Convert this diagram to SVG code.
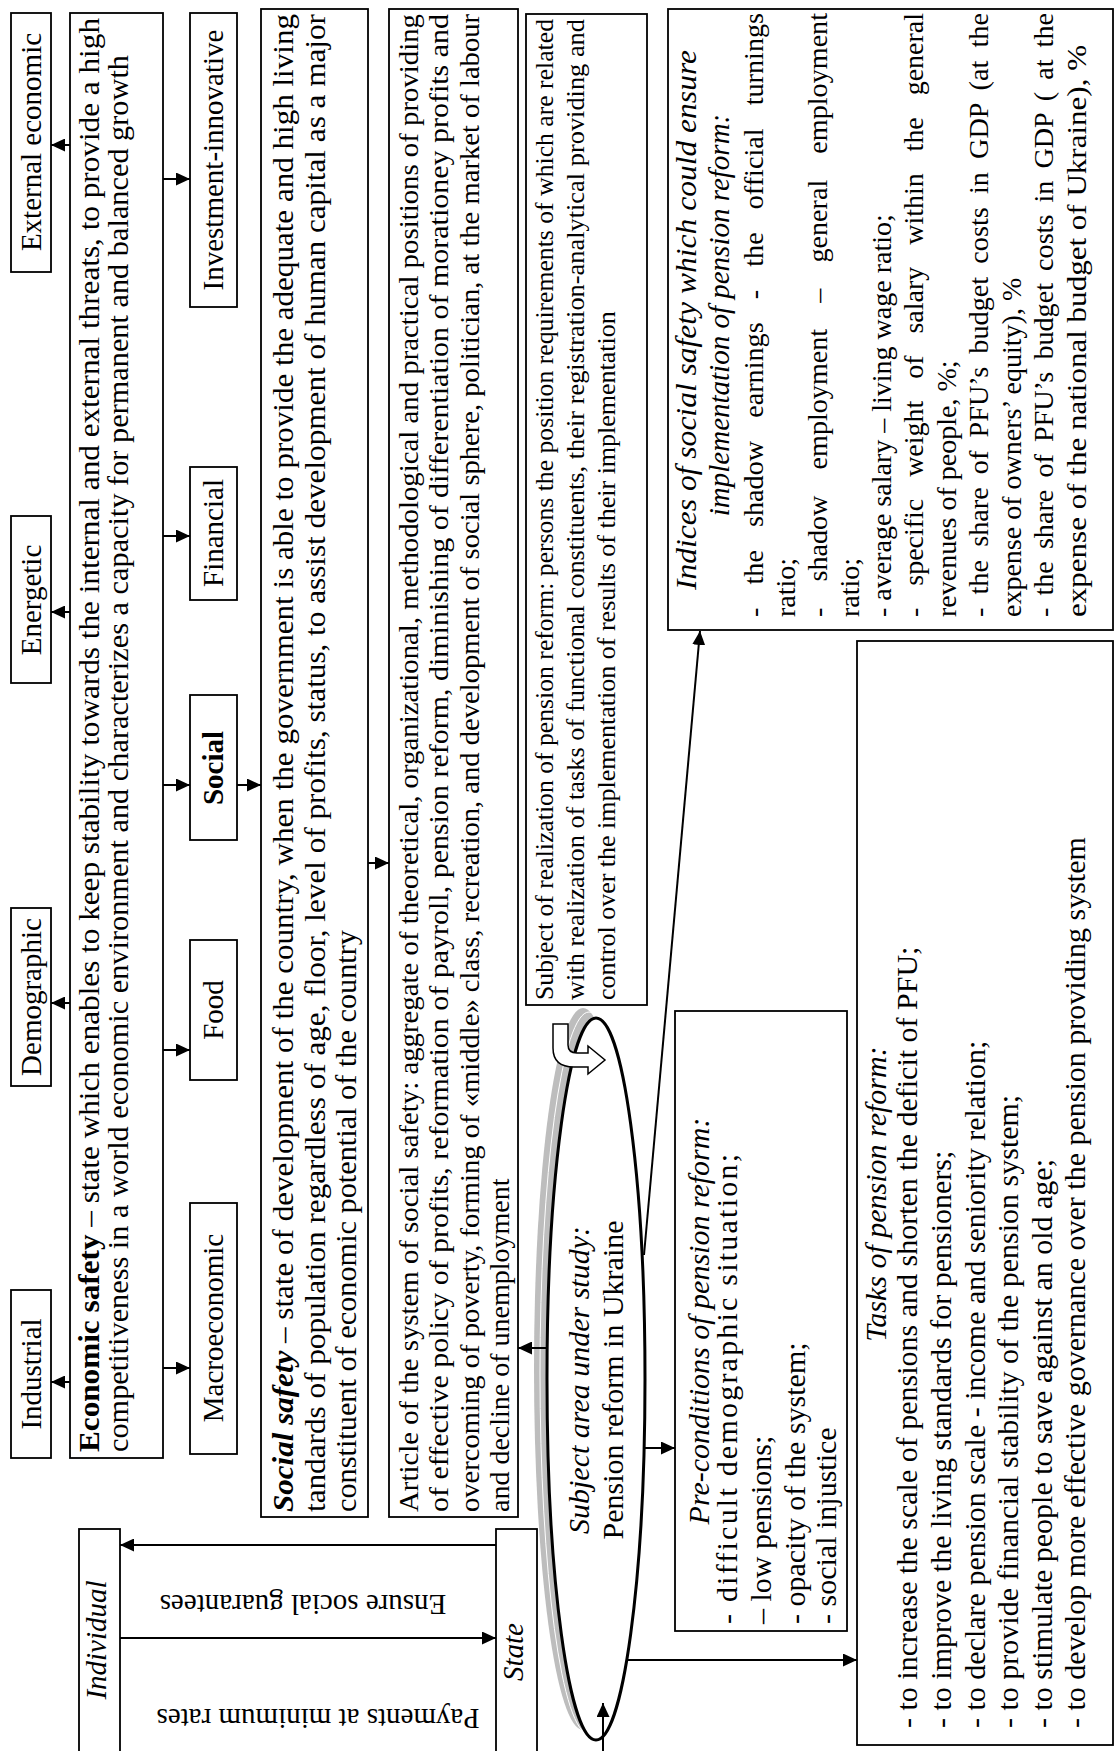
<svg xmlns="http://www.w3.org/2000/svg" width="1120" height="1751" viewBox="0 0 1120 1751">
<style>
.b{fill:#fff;stroke:#000;stroke-width:1.8}
.t{font-family:"Liberation Serif","Times New Roman",serif;font-size:29px;fill:#000}
.s{font-size:26px}
.m{font-size:28px}
.l{font-size:30px}
.i{font-style:italic}
.c{stroke:#000;stroke-width:2;fill:none;marker-end:url(#ah)}
</style>
<defs>
<marker id="ah" markerWidth="15" markerHeight="13" refX="14" refY="6.5" orient="auto" markerUnits="userSpaceOnUse"><path d="M0,0 L14,6.5 L0,13 z" fill="#000"/></marker>
</defs>
<rect width="1120" height="1751" fill="#fff"/>

<g id="external-economic"><rect class="b" x="11" y="13" width="40" height="259"/><text class="t" text-anchor="middle" transform="translate(41,142) rotate(-90)">External economic</text></g>
<g id="energetic"><rect class="b" x="11" y="516" width="40" height="167"/><text class="t" text-anchor="middle" transform="translate(41,600) rotate(-90)">Energetic</text></g>
<g id="demographic"><rect class="b" x="11" y="908" width="40" height="178"/><text class="t" text-anchor="middle" transform="translate(41,997) rotate(-90)">Demographic</text></g>
<g id="industrial"><rect class="b" x="11" y="1290" width="40" height="168"/><text class="t" text-anchor="middle" transform="translate(41,1374) rotate(-90)">Industrial</text></g>

<g id="economic-safety"><rect class="b" x="70" y="13" width="93" height="1445"/>
<text class="t" transform="translate(99,1452) rotate(-90)" textLength="1434" lengthAdjust="spacingAndGlyphs"><tspan font-weight="bold">Economic safety</tspan> – state which enables to keep stability towards the internal and external threats, to provide a high</text>
<text class="t" transform="translate(128,1452) rotate(-90)" textLength="1397" lengthAdjust="spacingAndGlyphs">competitiveness in a world economic environment and characterizes a capacity for permanent and balanced growth</text></g>

<g id="investment-innovative"><rect class="b" x="190" y="13" width="47" height="294"/><text class="t" text-anchor="middle" transform="translate(223,160) rotate(-90)">Investment-innovative</text></g>
<g id="financial"><rect class="b" x="190" y="467" width="47" height="133"/><text class="t" text-anchor="middle" transform="translate(223,533) rotate(-90)">Financial</text></g>
<g id="social"><rect class="b" x="190" y="695" width="47" height="145" stroke-width="2.4"/><text class="t" font-weight="bold" text-anchor="middle" transform="translate(223,768) rotate(-90)">Social</text></g>
<g id="food"><rect class="b" x="190" y="940" width="47" height="140"/><text class="t" text-anchor="middle" transform="translate(223,1010) rotate(-90)">Food</text></g>
<g id="macroeconomic"><rect class="b" x="190" y="1203" width="47" height="251"/><text class="t" text-anchor="middle" transform="translate(223,1328) rotate(-90)">Macroeconomic</text></g>

<g id="social-safety"><rect class="b" x="261" y="9" width="107" height="1508"/>
<text class="t" transform="translate(293,1512) rotate(-90)" textLength="1498" lengthAdjust="spacingAndGlyphs"><tspan font-weight="bold" font-style="italic">Social safety</tspan> – state of development of the country, when the government is able to provide the adequate and high living</text>
<text class="t" transform="translate(325,1512) rotate(-90)" textLength="1498" lengthAdjust="spacingAndGlyphs">tandards of population regardless of age, floor, level of profits, status, to assist development of human capital as a major</text>
<text class="t" transform="translate(356,1512) rotate(-90)" textLength="582" lengthAdjust="spacingAndGlyphs">constituent of economic potential of the country</text></g>

<g id="article"><rect class="b" x="389" y="9" width="129" height="1508"/>
<text class="t m" transform="translate(418,1512) rotate(-90)" textLength="1498" lengthAdjust="spacingAndGlyphs">Article of the system of social safety: aggregate of theoretical, organizational, methodological and practical positions of providing</text>
<text class="t m" transform="translate(448,1512) rotate(-90)" textLength="1498" lengthAdjust="spacingAndGlyphs">of effective policy of profits, reformation of payroll, pension reform, diminishing of differentiation of morationey profits and</text>
<text class="t m" transform="translate(479,1512) rotate(-90)" textLength="1498" lengthAdjust="spacingAndGlyphs">overcoming of poverty, forming of «middle» class, recreation, and development of social sphere, politician, at the market of labour</text>
<text class="t m" transform="translate(509,1512) rotate(-90)">and decline of unemployment</text></g>

<g id="subject-realization"><rect class="b" x="526" y="14" width="121" height="991"/>
<text class="t s" transform="translate(553,1000) rotate(-90)" textLength="981" lengthAdjust="spacingAndGlyphs">Subject of realization of pension reform: persons the position requirements of which are related</text>
<text class="t s" transform="translate(584,1000) rotate(-90)" textLength="981" lengthAdjust="spacingAndGlyphs">with realization of tasks of functional constituents, their registration-analytical providing and</text>
<text class="t s" transform="translate(615,1000) rotate(-90)">control over the implementation of results of their implementation</text></g>

<g id="indices"><rect class="b" x="668" y="9" width="445" height="621"/>
<text class="t i" text-anchor="middle" transform="translate(696,320) rotate(-90)" textLength="540" lengthAdjust="spacingAndGlyphs">Indices of social safety which could ensure</text>
<text class="t i" text-anchor="middle" transform="translate(729,315) rotate(-90)">implementation of pension reform:</text>
<text class="t m" transform="translate(763,617) rotate(-90)" word-spacing="16" textLength="604" lengthAdjust="spacingAndGlyphs">- the shadow earnings - the official turnings</text>
<text class="t m" transform="translate(795,617) rotate(-90)">ratio;</text>
<text class="t m" transform="translate(827,617) rotate(-90)" word-spacing="19" textLength="604" lengthAdjust="spacingAndGlyphs">- shadow employment – general employment</text>
<text class="t m" transform="translate(859,617) rotate(-90)">ratio;</text>
<text class="t m" transform="translate(891,617) rotate(-90)">- average salary – living wage ratio;</text>
<text class="t m" transform="translate(923,617) rotate(-90)" word-spacing="15" textLength="604" lengthAdjust="spacingAndGlyphs">- specific weight of salary within the general</text>
<text class="t m" transform="translate(956,617) rotate(-90)">revenues of people, %;</text>
<text class="t m" transform="translate(988,617) rotate(-90)" word-spacing="6" textLength="604" lengthAdjust="spacingAndGlyphs">- the share of PFU’s budget costs in GDP (at the</text>
<text class="t m" transform="translate(1021,617) rotate(-90)">expense of owners’ equity), %</text>
<text class="t m" transform="translate(1053,617) rotate(-90)" word-spacing="5" textLength="604" lengthAdjust="spacingAndGlyphs">- the share of PFU’s budget costs in GDP ( at the</text>
<text class="t m" transform="translate(1086,617) rotate(-90)" textLength="572" lengthAdjust="spacingAndGlyphs">expense of the national budget of Ukraine), %</text></g>

<g id="preconditions"><rect class="b" x="675" y="1011" width="172" height="620"/>
<text class="t l i" text-anchor="middle" transform="translate(709,1321) rotate(-90)">Pre-conditions of pension reform:</text>
<text class="t l" transform="translate(737,1624) rotate(-90)" textLength="470" lengthAdjust="spacing">- difficult demographic situation;</text>
<text class="t l" transform="translate(771,1624) rotate(-90)">– low pensions;</text>
<text class="t l" transform="translate(805,1624) rotate(-90)">- opacity of the system;</text>
<text class="t l" transform="translate(836,1624) rotate(-90)">- social injustice</text></g>

<g id="tasks"><rect class="b" x="857" y="641" width="256" height="1104"/>
<text class="t l i" text-anchor="middle" transform="translate(886,1194) rotate(-90)">Tasks of pension reform:</text>
<text class="t l" transform="translate(917,1728) rotate(-90)">- to increase the scale of pensions and shorten the deficit of PFU;</text>
<text class="t l" transform="translate(951,1728) rotate(-90)">- to improve the living standards for pensioners;</text>
<text class="t l" transform="translate(985,1728) rotate(-90)">- to declare  pension scale - income and seniority relation;</text>
<text class="t l" transform="translate(1018,1728) rotate(-90)">- to provide financial stability of the pension system;</text>
<text class="t l" transform="translate(1052,1728) rotate(-90)">- to stimulate people to save against an old age;</text>
<text class="t l" transform="translate(1085,1728) rotate(-90)">- to develop more effective governance over the pension providing system</text></g>

<g id="individual"><rect class="b" x="79" y="1529" width="41" height="240"/><text class="t i" text-anchor="middle" transform="translate(106,1640) rotate(-90)">Individual</text></g>
<g id="state"><rect class="b" x="496" y="1529" width="41" height="240"/><text class="t i" text-anchor="middle" transform="translate(523,1652) rotate(-90)">State</text></g>

<g id="subject-area">
<ellipse cx="583" cy="1369" rx="49" ry="361" fill="#bdbdbd"/>
<ellipse cx="589" cy="1373" rx="49" ry="361" fill="none" stroke="#fff" stroke-width="1"/>
<ellipse cx="596" cy="1379" rx="49" ry="361" fill="#fff" stroke="#000" stroke-width="3"/>
<path d="M553,1024 L568,1024 L568,1045 Q568,1053 577,1053 L588,1053 L588,1046 L605,1060 L588,1074 L588,1067 L574,1067 Q553,1067 553,1048 Z" fill="#fff" stroke="#000" stroke-width="1.5"/>
<text class="t l i" text-anchor="middle" transform="translate(589,1380) rotate(-90)">Subject area under study:</text>
<text class="t l" text-anchor="middle" transform="translate(623,1380) rotate(-90)">Pension reform in Ukraine</text>
</g>

<g id="flow-labels">
<text class="t" text-anchor="middle" transform="translate(303,1595) rotate(180)">Ensure social guarantees</text>
<text class="t" text-anchor="middle" transform="translate(318,1709) rotate(180)">Payments at minimum rates</text>
</g>

<g id="connectors">
<line class="c" x1="70" y1="145" x2="51" y2="145"/>
<line class="c" x1="70" y1="612" x2="51" y2="612"/>
<line class="c" x1="70" y1="1003" x2="51" y2="1003"/>
<line class="c" x1="70" y1="1382" x2="51" y2="1382"/>
<line class="c" x1="163" y1="179" x2="190" y2="179"/>
<line class="c" x1="163" y1="536" x2="190" y2="536"/>
<line class="c" x1="163" y1="785" x2="190" y2="785"/>
<line class="c" x1="163" y1="1050" x2="190" y2="1050"/>
<line class="c" x1="163" y1="1368" x2="190" y2="1368"/>
<line class="c" x1="237" y1="785" x2="261" y2="785"/>
<line class="c" x1="368" y1="863" x2="389" y2="863"/>
<line class="c" x1="547" y1="1348" x2="518" y2="1348"/>
<line class="c" x1="645" y1="1448" x2="675" y2="1448"/>
<line class="c" x1="628" y1="1660" x2="857" y2="1660"/>
<line class="c" x1="644" y1="1255" x2="700" y2="631"/>
<line class="c" x1="603" y1="1751" x2="603" y2="1703"/>
<line class="c" x1="496" y1="1545" x2="120" y2="1545"/>
<line class="c" x1="120" y1="1638" x2="496" y2="1638"/>
</g>
</svg>
